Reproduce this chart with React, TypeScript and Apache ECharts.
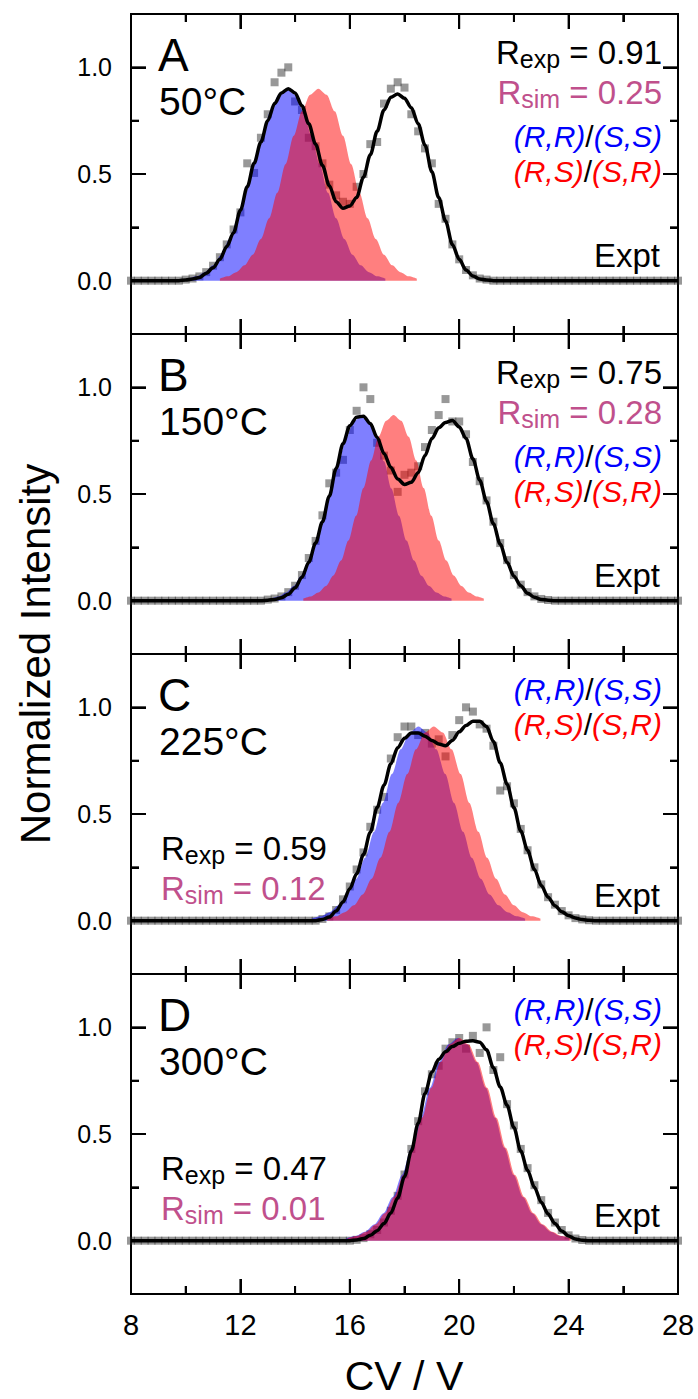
import React, { useEffect, useRef } from "react";
import * as echarts from "echarts";

const FF = "Liberation Sans, Arial, Helvetica, sans-serif";

// shared CV grid of the experimental scan (V)
const cv = [8,8.25,8.5,8.75,9,9.25,9.5,9.75,10,10.25,10.5,10.75,11,11.25,11.5,11.75,12,12.25,12.5,12.75,13,13.25,13.5,13.75,14,14.25,14.5,14.75,15,15.25,15.5,15.75,16,16.25,16.5,16.75,17,17.25,17.5,17.75,18,18.25,18.5,18.75,19,19.25,19.5,19.75,20,20.25,20.5,20.75,21,21.25,21.5,21.75,22,22.25,22.5,22.75,23,23.25,23.5,23.75,24,24.25,24.5,24.75,25,25.25,25.5,25.75,26,26.25,26.5,26.75,27,27.25,27.5,27.75,28];

const xTickValues = [8, 12, 16, 20, 24, 28];
const xMinorTicks = [10, 14, 18, 22, 26];
const yMajorTicks = [0, 0.5, 1];
const yMinorTicks = [0.25, 0.75];
const Y_MIN = -0.25;
const Y_MAX = 1.25;

// Panel A (50°C)
const fitA = [0,0,0,0,0,0,0,0,
  0.003,0.008,0.015,0.035,0.06,0.10,0.16,0.225,0.33,0.44,0.55,0.65,0.75,0.83,0.88,0.90,0.88,0.82,0.735,0.64,0.54,0.445,0.37,0.34,0.35,0.39,0.485,0.59,0.70,0.80,0.86,0.875,0.855,0.81,0.735,0.635,0.51,0.39,0.28,0.17,0.10,0.05,0.022,0.008,0.003,
  0,0,0,0,0,0,0, 0,0,0,0,0,0,0, 0,0,0,0,0,0,0, 0,0,0,0,0,0,0];
const exptA = [0,0,0,0,0,0,0,0,
  0.005,0.01,0.02,0.04,0.07,0.11,0.17,0.24,0.32,
  0.55,0.505,0.67,0.78,0.93,0.975,1.0,
  0.84,0.80,0.67,0.63,0.55,0.45,0.40,0.37,0.36,
  0.44,0.50,0.64,0.65,0.83,0.90,0.93,0.905,
  0.78,0.70,0.62,0.55,0.36,0.29,0.17,0.10,0.05,0.025,0.01,0.005,
  0,0,0,0,0,0,0, 0,0,0,0,0,0,0, 0,0,0,0,0,0,0, 0,0,0,0,0,0,0];
const blueA = [[10.1,0.010],[10.4,0.021],[10.7,0.040],[11.0,0.072],[11.3,0.122],[11.6,0.195],[11.9,0.292],[12.2,0.412],[12.5,0.546],[12.8,0.679],[13.1,0.794],[13.4,0.872],[13.7,0.900],[14.0,0.872],[14.3,0.794],[14.6,0.679],[14.9,0.546],[15.2,0.412],[15.5,0.292],[15.8,0.195],[16.1,0.122],[16.4,0.072],[16.7,0.040],[17.0,0.021],[17.3,0.010]];
const redA = [[11.25,0.010],[11.55,0.021],[11.85,0.040],[12.15,0.072],[12.45,0.122],[12.75,0.195],[13.05,0.292],[13.35,0.412],[13.65,0.546],[13.95,0.679],[14.25,0.794],[14.55,0.872],[14.85,0.900],[15.15,0.872],[15.45,0.794],[15.75,0.679],[16.05,0.546],[16.35,0.412],[16.65,0.292],[16.95,0.195],[17.25,0.122],[17.55,0.072],[17.85,0.040],[18.15,0.021],[18.45,0.010]];

// Panel B (150°C)
const fitB = [0,0,0,0,0,0,0,0,0,0, 0,0,0,0,0,0,0,0,0,0,
  0.002,0.006,0.014,0.03,0.06,0.11,0.18,0.27,0.37,0.49,0.62,0.735,0.82,0.86,0.865,0.83,0.765,0.69,0.625,0.57,0.545,0.555,0.60,0.68,0.76,0.81,0.835,0.845,0.815,0.76,0.665,0.565,0.465,0.36,0.265,0.18,0.115,0.07,0.035,0.016,0.006,0.002,
  0,0,0,0,0,0,0,0,0,0, 0,0,0,0,0,0,0,0,0];
const exptB = [0,0,0,0,0,0,0,0,0,0, 0,0,0,0,0,0,0,0,0,0,
  0.005,0.01,0.02,0.04,0.07,0.12,0.20,0.28,0.40,0.55,
  0.60,0.66,0.80,0.89,1.00,0.945,0.74,0.68,0.61,0.51,
  0.59,0.60,0.63,0.72,0.80,0.87,0.945,0.84,0.84,0.78,
  0.65,0.56,0.47,0.37,0.27,0.19,0.12,0.075,0.04,0.02,
  0.008,0.003,
  0,0,0,0,0,0,0,0,0,0, 0,0,0,0,0,0,0,0,0];
const blueB = [[13.12,0.010],[13.40,0.020],[13.67,0.038],[13.95,0.069],[14.22,0.117],[14.50,0.188],[14.77,0.282],[15.05,0.397],[15.32,0.526],[15.60,0.654],[15.87,0.765],[16.15,0.840],[16.42,0.867],[16.70,0.840],[16.97,0.765],[17.25,0.654],[17.52,0.526],[17.80,0.397],[18.07,0.282],[18.35,0.188],[18.62,0.117],[18.90,0.069],[19.17,0.038],[19.45,0.020],[19.72,0.010]];
const redB = [[14.30,0.010],[14.58,0.020],[14.85,0.038],[15.13,0.069],[15.40,0.118],[15.68,0.188],[15.95,0.282],[16.23,0.398],[16.50,0.528],[16.78,0.657],[17.05,0.768],[17.33,0.843],[17.60,0.870],[17.88,0.843],[18.15,0.768],[18.43,0.657],[18.70,0.528],[18.98,0.398],[19.25,0.282],[19.53,0.188],[19.80,0.118],[20.08,0.069],[20.35,0.038],[20.63,0.020],[20.90,0.010]];

// Panel C (225°C)
const fitC = [0,0,0,0,0,0,0, 0,0,0,0,0,0,0, 0,0,0,0,0,0,0, 0,0,0,0,0,0,0,
  0.006,0.017,0.045,0.088,0.15,0.22,0.31,0.415,0.53,0.635,
  0.735,0.81,0.855,0.88,0.88,0.865,0.845,0.828,0.82,0.845,
  0.885,0.915,0.935,0.935,0.91,0.84,0.74,0.64,0.53,0.42,
  0.33,0.24,0.165,0.11,0.07,0.042,0.024,0.012,0.005,0.002,
  0,0,0,0,0,0,0,0,0,0,0,0,0];
const exptC = [0,0,0,0,0,0,0, 0,0,0,0,0,0,0, 0,0,0,0,0,0,0, 0,0,0,0,0,0,0,
  0.008,0.02,0.05,0.10,0.16,0.24,0.32,0.44,0.52,0.58,
  0.76,0.86,0.91,0.91,0.87,0.88,0.83,0.85,0.77,0.87,
  0.94,1.00,0.98,0.92,0.90,0.82,0.61,0.63,0.55,0.43,
  0.33,0.25,0.17,0.11,0.075,0.045,0.025,0.012,0.006,0.002,
  0,0,0,0,0,0,0,0,0,0,0,0,0];
const blueC = [[14.61,0.010],[14.94,0.021],[15.26,0.040],[15.59,0.072],[15.91,0.123],[16.24,0.197],[16.56,0.295],[16.89,0.417],[17.21,0.552],[17.54,0.687],[17.86,0.803],[18.19,0.882],[18.51,0.910],[18.84,0.882],[19.16,0.803],[19.49,0.687],[19.81,0.552],[20.14,0.417],[20.46,0.295],[20.79,0.197],[21.11,0.123],[21.44,0.072],[21.76,0.040],[22.09,0.021],[22.41,0.010]];
const redC = [[15.17,0.010],[15.50,0.021],[15.82,0.040],[16.15,0.072],[16.47,0.123],[16.80,0.197],[17.12,0.295],[17.45,0.417],[17.77,0.552],[18.10,0.687],[18.42,0.803],[18.75,0.882],[19.07,0.910],[19.40,0.882],[19.72,0.803],[20.05,0.687],[20.37,0.552],[20.70,0.417],[21.02,0.295],[21.35,0.197],[21.67,0.123],[22.00,0.072],[22.32,0.040],[22.65,0.021],[22.97,0.010]];

// Panel D (300°C)
const fitD = [0,0,0,0,0,0,0,0,0,0,0, 0,0,0,0,0,0,0,0,0,0,0, 0,0,0,0,0,0,0,0,0,0,0,
  0.003,0.01,0.025,0.047,0.08,0.13,0.20,0.30,0.42,0.55,
  0.69,0.79,0.85,0.885,0.91,0.925,0.935,0.937,0.93,0.895,
  0.81,0.72,0.635,0.53,0.42,0.33,0.25,0.18,0.125,0.08,
  0.045,0.022,0.008,0.002,
  0,0,0,0,0,0,0, 0,0,0,0,0,0,0];
const exptD = [0,0,0,0,0,0,0,0,0,0,0, 0,0,0,0,0,0,0,0,0,0,0, 0,0,0,0,0,0,0,0,0,0,0,
  0.004,0.012,0.03,0.05,0.085,0.14,0.21,0.31,0.43,0.56,
  0.70,0.78,0.82,0.90,0.93,0.95,0.90,0.96,0.88,1.00,
  0.80,0.86,0.64,0.54,0.43,0.34,0.26,0.19,0.13,0.085,
  0.05,0.025,0.01,0.003,
  0,0,0,0,0,0,0, 0,0,0,0,0,0,0];
const blueD = [[15.87,0.011],[16.21,0.022],[16.55,0.042],[16.89,0.076],[17.23,0.129],[17.57,0.205],[17.91,0.308],[18.25,0.435],[18.59,0.576],[18.93,0.717],[19.27,0.838],[19.61,0.921],[19.95,0.950],[20.29,0.921],[20.63,0.838],[20.97,0.717],[21.31,0.576],[21.65,0.435],[21.99,0.308],[22.33,0.205],[22.67,0.129],[23.01,0.076],[23.35,0.042],[23.69,0.022],[24.03,0.011]];
const redD = [[15.92,0.011],[16.26,0.022],[16.60,0.042],[16.94,0.076],[17.28,0.129],[17.62,0.205],[17.96,0.308],[18.30,0.435],[18.64,0.576],[18.98,0.717],[19.32,0.838],[19.66,0.921],[20.00,0.950],[20.34,0.921],[20.68,0.838],[21.02,0.717],[21.36,0.576],[21.70,0.435],[22.04,0.308],[22.38,0.205],[22.72,0.129],[23.06,0.076],[23.40,0.042],[23.74,0.022],[24.08,0.011]];

const panelLetters = ["A", "B", "C", "D"];
const temperatures = ["50°C", "150°C", "225°C", "300°C"];
const rExp = ["0.91", "0.75", "0.59", "0.47"];
const rSim = ["0.25", "0.28", "0.12", "0.01"];
const fits = [fitA, fitB, fitC, fitD];
const expts = [exptA, exptB, exptC, exptD];
const blues = [blueA, blueB, blueC, blueD];
const reds = [redA, redB, redC, redD];

const LEFT = 131;
const WIDTH = 547;
const TOP = 14;
const H = 320;
const MAGENTA = "#C0508C";
const MAJOR_LEN = 15;
const MINOR_LEN = 8;
const TICK_W = 2;

function rText(label: string, value: string, color: string) {
  return {
    text: `{m|R}{s|${label}}{m| = ${value}}`,
    rich: {
      m: { fontSize: 33, fontFamily: FF, fill: color },
      s: { fontSize: 25, fontFamily: FF, fill: color, padding: [14, 0, 0, 0] },
    },
  };
}

function stereoText(a: string, b: string, color: string) {
  return {
    text: `{c|${a}}{k|/}{c|${b}}`,
    rich: {
      c: { fontSize: 30, fontFamily: FF, fontStyle: "italic", fill: color },
      k: { fontSize: 30, fontFamily: FF, fill: "#000" },
    },
  };
}

const mkLine = () => ({ show: true, onZero: false, lineStyle: { color: "#000", width: 2 } });
const mkTick = (len: number, values?: number[]) => {
  const t: any = { show: true, inside: true, length: len, lineStyle: { color: "#000", width: 2 } };
  if (values) t.customValues = values.slice();
  return t;
};

// inward frame ticks on all four sides, as thin rect symbols placed by the grid's own scales
function frameTickItems() {
  const items: any[] = [];
  const xMin = xTickValues[0];
  const xMax = xTickValues[xTickValues.length - 1];
  const addX = (v: number, len: number) => {
    items.push({ value: [v, Y_MIN], symbolSize: [TICK_W, len], symbolOffset: [0, -len / 2] });
    items.push({ value: [v, Y_MAX], symbolSize: [TICK_W, len], symbolOffset: [0, len / 2] });
  };
  const addY = (v: number, len: number) => {
    items.push({ value: [xMin, v], symbolSize: [len, TICK_W], symbolOffset: [len / 2, 0] });
    items.push({ value: [xMax, v], symbolSize: [len, TICK_W], symbolOffset: [-len / 2, 0] });
  };
  xTickValues.forEach((v) => addX(v, MAJOR_LEN));
  xMinorTicks.forEach((v) => addX(v, MINOR_LEN));
  yMajorTicks.forEach((v) => addY(v, MAJOR_LEN));
  yMinorTicks.forEach((v) => addY(v, MINOR_LEN));
  return items;
}

export default function App() {
  const ref = useRef<HTMLDivElement>(null);
  useEffect(() => {
    document.body.style.margin = "0";
    const chart = echarts.init(ref.current!, null, { renderer: "svg" });

    const grids: any[] = [];
    const xAxes: any[] = [];
    const yAxes: any[] = [];
    const series: any[] = [];
    const graphics: any[] = [];

    for (let i = 0; i < 4; i++) {
      const T = TOP + i * H;
      grids.push({ left: LEFT, width: WIDTH, top: T, height: H });

      const xBase = () => ({
        type: "value",
        gridIndex: i,
        min: xTickValues[0],
        max: xTickValues[xTickValues.length - 1],
        interval: 4,
        splitLine: { show: false },
        axisLine: mkLine(),
        axisTick: mkTick(MAJOR_LEN),
        minorTick: { show: true, splitNumber: 2, length: MINOR_LEN, lineStyle: { color: "#000", width: 2 } },
      });
      const x0 = xAxes.length;
      xAxes.push({
        ...xBase(),
        position: "bottom",
        axisLabel:
          i === 3
            ? { show: true, fontSize: 29, fontFamily: FF, color: "#000", margin: 16 }
            : { show: false },
      });
      xAxes.push({ ...xBase(), position: "top", axisLabel: { show: false } });

      const yBase = () => ({
        type: "value",
        gridIndex: i,
        min: Y_MIN,
        max: Y_MAX,
        splitLine: { show: false },
        axisLine: mkLine(),
      });
      const y0 = yAxes.length;
      yAxes.push({
        ...yBase(),
        position: "left",
        axisTick: mkTick(MAJOR_LEN, yMajorTicks),
        axisLabel: {
          show: true,
          customValues: yMajorTicks.slice(),
          formatter: (v: number) => v.toFixed(1),
          fontSize: 25,
          fontFamily: FF,
          color: "#000",
          margin: 19,
        },
      });
      yAxes.push({ ...yBase(), position: "left", axisTick: mkTick(MINOR_LEN, yMinorTicks), axisLabel: { show: false } });
      yAxes.push({ ...yBase(), position: "right", axisTick: mkTick(MAJOR_LEN, yMajorTicks), axisLabel: { show: false } });
      yAxes.push({ ...yBase(), position: "right", axisTick: mkTick(MINOR_LEN, yMinorTicks), axisLabel: { show: false } });

      series.push({
        type: "scatter",
        xAxisIndex: x0,
        yAxisIndex: y0,
        data: cv.map((x, j) => [x, expts[i][j]]),
        symbol: "rect",
        symbolSize: 8,
        itemStyle: { color: "rgba(40,40,40,0.6)" },
      });
      series.push({
        type: "line",
        xAxisIndex: x0,
        yAxisIndex: y0,
        data: cv.map((x, j) => [x, fits[i][j]]),
        showSymbol: false,
        smooth: 0.3,
        smoothMonotone: "x",
        lineStyle: { color: "#000", width: 3.5 },
      });
      series.push({
        type: "line",
        xAxisIndex: x0,
        yAxisIndex: y0,
        data: blues[i],
        showSymbol: false,
        smooth: 0.3,
        smoothMonotone: "x",
        lineStyle: { width: 1, color: "rgba(0,0,0,0)" },
        areaStyle: { color: "rgba(0,0,255,0.5)", opacity: 1 },
      });
      series.push({
        type: "line",
        xAxisIndex: x0,
        yAxisIndex: y0,
        data: reds[i],
        showSymbol: false,
        smooth: 0.3,
        smoothMonotone: "x",
        lineStyle: { width: 1, color: "rgba(0,0,0,0)" },
        areaStyle: { color: "rgba(255,0,0,0.5)", opacity: 1 },
      });
      series.push({
        type: "scatter",
        xAxisIndex: x0,
        yAxisIndex: y0,
        data: frameTickItems(),
        symbol: "rect",
        itemStyle: { color: "#000", opacity: 1 },
        clip: false,
        silent: true,
      });

      graphics.push({
        type: "text", x: 158, y: T + 41,
        style: { text: panelLetters[i], fontSize: 46, fontFamily: FF, fill: "#000", align: "left", verticalAlign: "middle" },
      });
      graphics.push({
        type: "text", x: 159, y: T + 87,
        style: { text: temperatures[i], fontSize: 39, fontFamily: FF, fill: "#000", align: "left", verticalAlign: "middle" },
      });
      const RX = 662;
      if (i < 2) {
        graphics.push({ type: "text", x: RX, y: T + 38, style: { ...rText("exp", rExp[i], "#000"), align: "right", verticalAlign: "middle" } });
        graphics.push({ type: "text", x: RX, y: T + 78, style: { ...rText("sim", rSim[i], MAGENTA), align: "right", verticalAlign: "middle" } });
        graphics.push({ type: "text", x: RX, y: T + 122, style: { ...stereoText("(R,R)", "(S,S)", "#0000FF"), align: "right", verticalAlign: "middle" } });
        graphics.push({ type: "text", x: RX, y: T + 157, style: { ...stereoText("(R,S)", "(S,R)", "#FF0000"), align: "right", verticalAlign: "middle" } });
      } else {
        graphics.push({ type: "text", x: RX, y: T + 35, style: { ...stereoText("(R,R)", "(S,S)", "#0000FF"), align: "right", verticalAlign: "middle" } });
        graphics.push({ type: "text", x: RX, y: T + 70, style: { ...stereoText("(R,S)", "(S,R)", "#FF0000"), align: "right", verticalAlign: "middle" } });
        graphics.push({ type: "text", x: 161, y: T + 194, style: { ...rText("exp", rExp[i], "#000"), align: "left", verticalAlign: "middle" } });
        graphics.push({ type: "text", x: 161, y: T + 234, style: { ...rText("sim", rSim[i], MAGENTA), align: "left", verticalAlign: "middle" } });
      }
      graphics.push({
        type: "text", x: 660, y: T + 241,
        style: { text: "Expt", fontSize: 33, fontFamily: FF, fill: "#000", align: "right", verticalAlign: "middle" },
      });
    }

    graphics.push({
      type: "text", x: 35, y: 654, rotation: Math.PI / 2,
      style: { text: "Normalized Intensity", fontSize: 42, fontFamily: FF, fill: "#000", align: "center", verticalAlign: "middle" },
    });
    graphics.push({
      type: "text", x: 404, y: 1376,
      style: { text: "CV / V", fontSize: 41, fontFamily: FF, fill: "#000", align: "center", verticalAlign: "middle" },
    });

    chart.setOption({
      animation: false,
      grid: grids,
      xAxis: xAxes,
      yAxis: yAxes,
      series,
      graphic: { elements: graphics },
    });
    return () => chart.dispose();
  }, []);
  return (
    <div
      ref={ref}
      style={{ position: "absolute", left: 0, top: 0, width: 698, height: 1399, background: "#fff" }}
    />
  );
}
